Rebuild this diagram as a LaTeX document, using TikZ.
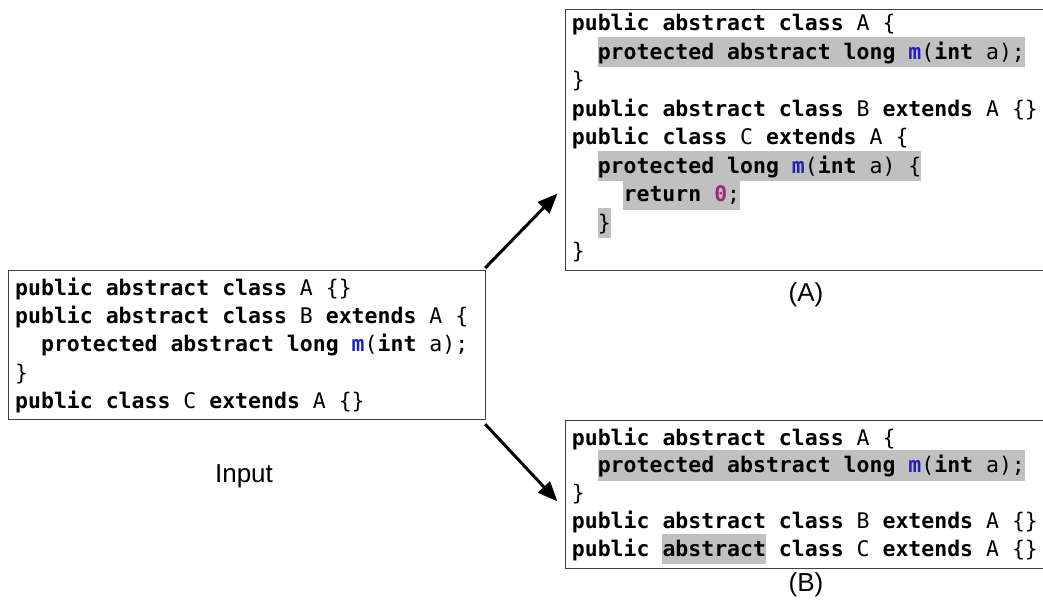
\documentclass[tikz,border=0pt]{standalone}
\usepackage{fontspec}
\usetikzlibrary{arrows.meta}
\setmainfont{Liberation Sans}
\newfontfamily\codefont{DejaVu Sans Mono}
\definecolor{mblue}{HTML}{1F1FC4}
\definecolor{numc}{HTML}{9B2A72}
\definecolor{hlgray}{HTML}{C0C0C0}
\definecolor{boxline}{HTML}{404040}
\newcommand\kw[1]{\textbf{#1}}
\newcommand\mth{\textcolor{mblue}{\textbf{m}}}
\newcommand\numlit[1]{\textcolor{numc}{\textbf{#1}}}
% width of one character of the code font (pt)
\def\cw{12.94}
% highlight from column #2 to column #3 of a line starting at x=#1 with baseline #4
\newcommand\hlrect[4]{\fill[hlgray] ({#1+#2*\cw},{#4-22.5}) rectangle ({#1+#3*\cw},{#4+8});}
\tikzset{
  box/.style={draw=boxline, line width=1.2pt, fill=white, inner sep=0pt, anchor=north west},
  code/.style={font=\codefont\fontsize{21.5pt}{26pt}\selectfont, inner sep=0pt, anchor=base west},
  caption/.style={font=\fontsize{26pt}{30pt}\selectfont, inner sep=0pt, anchor=base},
  flow/.style={line width=3pt, -{Triangle[length=20pt,width=16pt]}}
}
\begin{document}
\begin{tikzpicture}[x=1pt,y=-1pt]
\useasboundingbox (0,0) rectangle (1043,605);

% frames
\node[box, minimum width=477pt, minimum height=149pt] (in) at (8,270) {};
\node[box, minimum width=500pt, minimum height=261pt] (outA) at (565,9) {};
\node[box, minimum width=500pt, minimum height=148pt] (outB) at (565,420) {};

% input code
\node[code] (i1) at (15,295.0) {\kw{public} \kw{abstract} \kw{class} A \{\}};
\node[code] (i2) at (15,323.3) {\kw{public} \kw{abstract} \kw{class} B \kw{extends} A \{};
\node[code] (i3) at ({15+2*\cw},351.7) {\kw{protected} \kw{abstract} \kw{long} \mth(\kw{int} a);};
\node[code] (i4) at (15,380.0) {\}};
\node[code] (i5) at (15,408.3) {\kw{public} \kw{class} C \kw{extends} A \{\}};

% result (A)
\hlrect{571.7}{2}{35}{59.0}
\hlrect{571.7}{2}{27}{173.0}
\hlrect{571.7}{4}{13}{201.5}
\hlrect{571.7}{2}{3}{230.0}
\node[code] (a1) at (571.7,30.5) {\kw{public} \kw{abstract} \kw{class} A \{};
\node[code] (a2) at ({571.7+2*\cw},59.0) {\kw{protected} \kw{abstract} \kw{long} \mth(\kw{int} a);};
\node[code] (a3) at (571.7,87.5) {\}};
\node[code] (a4) at (571.7,116.0) {\kw{public} \kw{abstract} \kw{class} B \kw{extends} A \{\}};
\node[code] (a5) at (571.7,144.5) {\kw{public} \kw{class} C \kw{extends} A \{};
\node[code] (a6) at ({571.7+2*\cw},173.0) {\kw{protected} \kw{long} \mth(\kw{int} a) \{};
\node[code] (a7) at ({571.7+4*\cw},201.5) {\kw{return} \numlit{0};};
\node[code] (a8) at ({571.7+2*\cw},230.0) {\}};
\node[code] (a9) at (571.7,258.5) {\}};

% result (B)
\hlrect{571.7}{2}{35}{472.5}
\hlrect{571.7}{7}{15}{556.0}
\node[code] (b1) at (571.7,445.0) {\kw{public} \kw{abstract} \kw{class} A \{};
\node[code] (b2) at ({571.7+2*\cw},472.5) {\kw{protected} \kw{abstract} \kw{long} \mth(\kw{int} a);};
\node[code] (b3) at (571.7,500.5) {\}};
\node[code] (b4) at (571.7,528.0) {\kw{public} \kw{abstract} \kw{class} B \kw{extends} A \{\}};
\node[code] (b5) at (571.7,556.0) {\kw{public} \kw{abstract} \kw{class} C \kw{extends} A \{\}};

% captions
\node[caption] (capIn) at (244,482.3) {Input};
\node[caption] (capA) at (806,301.7) {(A)};
\node[caption] (capB) at (806,591.7) {(B)};

% arrows
\coordinate (tipA) at (557.5,193.5);
\coordinate (tipB) at (557.5,501.5);
\draw[flow] ([shift={(-1,-2)}]in.north east) -- (tipA);
\draw[flow] ([shift={(-1,4)}]in.south east) -- (tipB);
\end{tikzpicture}
\end{document}
